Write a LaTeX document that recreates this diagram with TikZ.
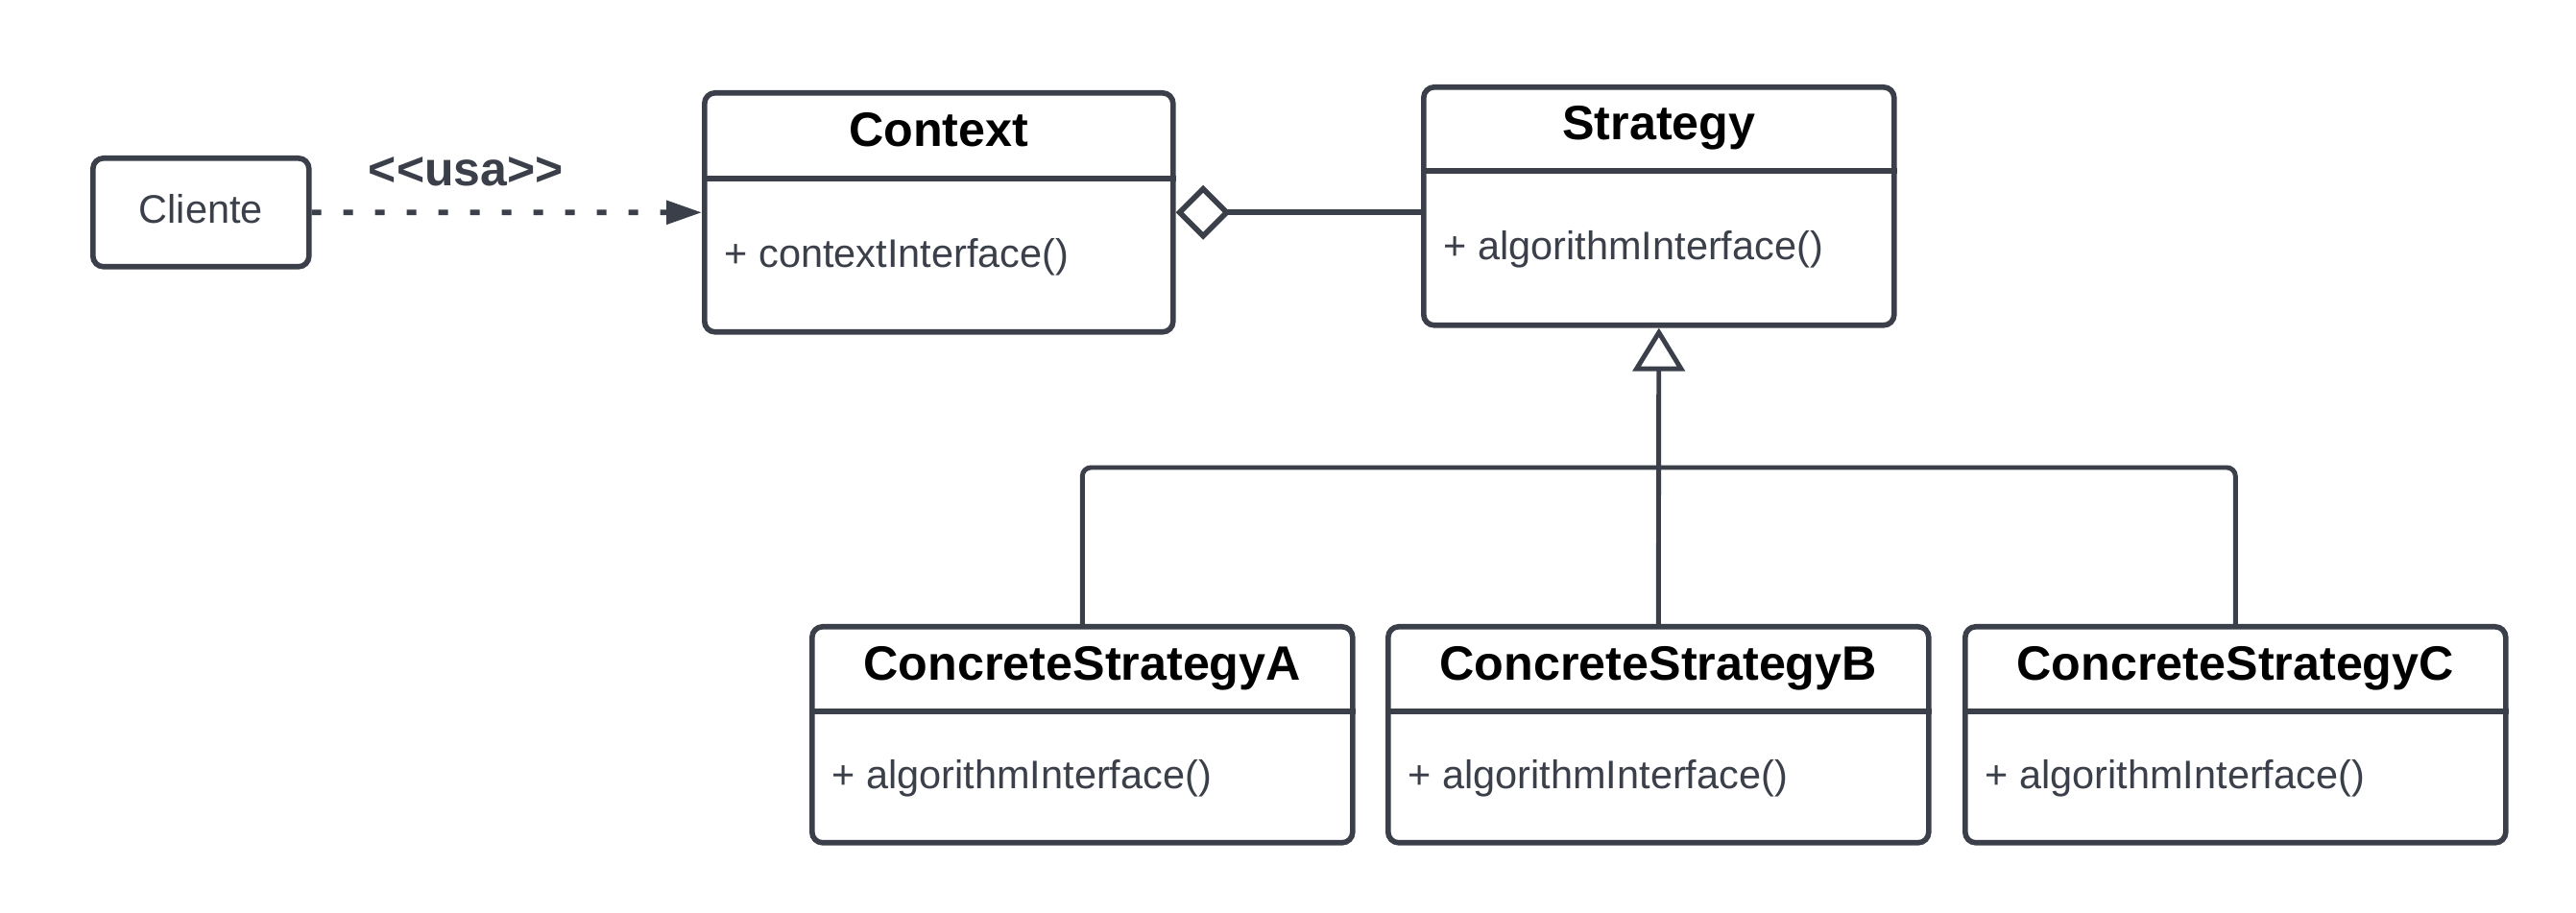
\documentclass[tikz,border=0pt]{standalone}
\usepackage{fontspec}
\newfontfamily\umlfont{Liberation Sans}
\usepackage{tikz}
\usetikzlibrary{arrows.meta,calc,positioning}
\definecolor{umlgray}{HTML}{3A3F49}
\tikzstyle{classbox}=[draw=umlgray, line width=1.6pt, rounded corners=0.11cm, fill=white, inner sep=0pt]
\tikzstyle{clientbox}=[classbox, font=\umlfont\fontsize{11.8}{14}\selectfont, text=umlgray, text height=0.32cm, text depth=0.10cm]
\tikzstyle{classtitle}=[font=\umlfont\fontsize{14.3}{17}\selectfont\bfseries, text=black, inner sep=0pt, text height=0.38cm, text depth=0.12cm]
\tikzstyle{classop}=[font=\umlfont\fontsize{11.8}{14}\selectfont, text=umlgray, inner sep=0pt, text height=0.32cm, text depth=0.10cm]
\tikzstyle{classline}=[draw=umlgray, line width=1.6pt]
\tikzstyle{usalabel}=[font=\umlfont\fontsize{14.2}{17}\selectfont\bfseries, text=umlgray, inner sep=0pt, text height=0.38cm, text depth=0.12cm]
\tikzstyle{usesline}=[draw=umlgray, line width=1.6pt, dash pattern=on 0.1cm off 0.23cm, -{Triangle[length=0.37cm, width=0.24cm]}]
\tikzstyle{aggline}=[draw=umlgray, line width=1.6pt, -{Diamond[open, length=0.57cm, width=0.57cm]}]
\tikzstyle{treeline}=[draw=umlgray, line width=1.4pt, rounded corners=0.09cm]
\tikzstyle{inherits}=[treeline, -{Triangle[open, length=0.45cm, width=0.54cm]}]
\newcommand{\umlClass}[7]{
	\node[classbox, anchor=north west, minimum width=#3cm, minimum height=#4cm+#5cm] (#1) at #2 {};
	\draw[classline] ($(#1.north west)+(0,-#4)$) -- ($(#1.north east)+(0,-#4)$);
	\node[classtitle] (#1-title) at ($(#1.north)+(0,-#4/2)$) {#6};
	\node[classop, anchor=west] (#1-op) at ($(#1.west)+(0.23,-#4/2)$) {#7};
}
\begin{document}
\begin{tikzpicture}
	\useasboundingbox (0,0) rectangle (26.83,-9.51);
	\node[clientbox, anchor=north west, minimum width=2.25cm, minimum height=1.13cm] (Cliente) at (0.94,-1.62) {Cliente};
	\umlClass{Context}{(7.31,-0.94)}{4.88}{0.92}{1.57}{Context}{+ contextInterface()}
	\umlClass{Strategy}{(14.80,-0.88)}{4.90}{0.90}{1.58}{Strategy}{+ algorithmInterface()}
	\umlClass{ConcreteA}{(8.43,-6.50)}{5.63}{0.91}{1.34}{ConcreteStrategyA}{+ algorithmInterface()}
	\umlClass{ConcreteB}{(14.43,-6.50)}{5.63}{0.91}{1.34}{ConcreteStrategyB}{+ algorithmInterface()}
	\umlClass{ConcreteC}{(20.44,-6.50)}{5.63}{0.91}{1.34}{ConcreteStrategyC}{+ algorithmInterface()}
	\coordinate (bus) at (0,-4.87);
	\draw[usesline] (Cliente) -- node[usalabel, pos=0.395, yshift=0.41cm] (usa) {<<usa>>} (Context.west);
	\draw[aggline] (Strategy.west |- Context.east) -- (Context.east);
	\draw[treeline] (ConcreteA.north) |- (bus -| ConcreteC.north) -- (ConcreteC.north);
	\draw[inherits] (ConcreteB.north) -- (Strategy.south);
\end{tikzpicture}
\end{document}
